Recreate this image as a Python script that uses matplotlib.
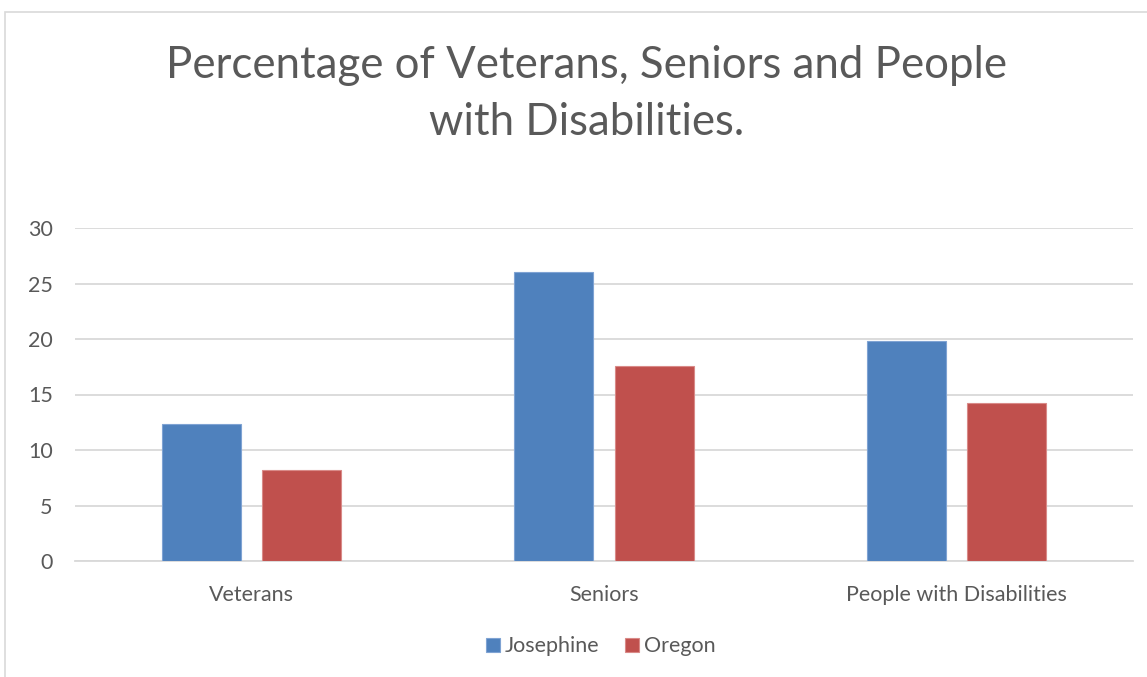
import matplotlib.pyplot as plt
import numpy as np
from matplotlib.patches import Rectangle

categories = ['Veterans', 'Seniors', 'People with Disabilities']
josephine = [12.3, 26.0, 19.8]
oregon = [8.2, 17.6, 14.2]
yticks = [0, 5, 10, 15, 20, 25, 30]

plt.rcParams['font.family'] = ['Lato', 'DejaVu Sans']
text_color = '#595959'
grid_color = '#D9D9D9'

fig = plt.figure(figsize=(11.47, 6.77), dpi=100)
ax = fig.add_axes([75 / 1147, 1 - 561 / 677, (1133 - 75) / 1147, (561 - 228) / 677])

# chart frame (only top/left visible in the reference)
fig.patches.append(Rectangle((5 / 1147, -0.05), 1.2, 1 - 12 / 677 + 0.05,
                             transform=fig.transFigure, fill=False,
                             edgecolor='#D9D9D9', linewidth=1.2))

x = np.arange(len(categories))
w = 0.224
off = 0.142
ax.bar(x - off, josephine, w, color='#4F81BD', edgecolor='#7FA3D3',
       linewidth=0.8, label='Josephine', zorder=3)
ax.bar(x + off, oregon, w, color='#C0504D', edgecolor='#D98A88',
       linewidth=0.8, label='Oregon', zorder=3)

ax.set_xlim(-0.5, len(categories) - 0.5)
ax.set_ylim(0, 30)
ax.set_yticks(yticks)
ax.set_xticks(x)
ax.set_xticklabels(categories)
ax.grid(axis='y', color=grid_color, linewidth=1.3, zorder=0)
for s in ['top', 'right', 'left']:
    ax.spines[s].set_visible(False)
ax.spines['bottom'].set_color(grid_color)
ax.spines['bottom'].set_linewidth(1.3)
ax.tick_params(axis='both', length=0, labelsize=15.5, labelcolor=text_color)
ax.tick_params(axis='y', pad=16)
ax.tick_params(axis='x', pad=17)

fig.text(0.511, 0.861, 'Percentage of Veterans, Seniors and People\nwith Disabilities.',
         ha='center', va='center', fontsize=31.5, color=text_color, linespacing=1.5)

ax.legend(loc='center', bbox_to_anchor=(0.497, -0.256), ncol=2, frameon=False,
          fontsize=15.5, labelcolor=text_color, handlelength=0.65, handleheight=0.65,
          handletextpad=0.2, columnspacing=1.2)

fig.savefig('out.png', dpi=100)
